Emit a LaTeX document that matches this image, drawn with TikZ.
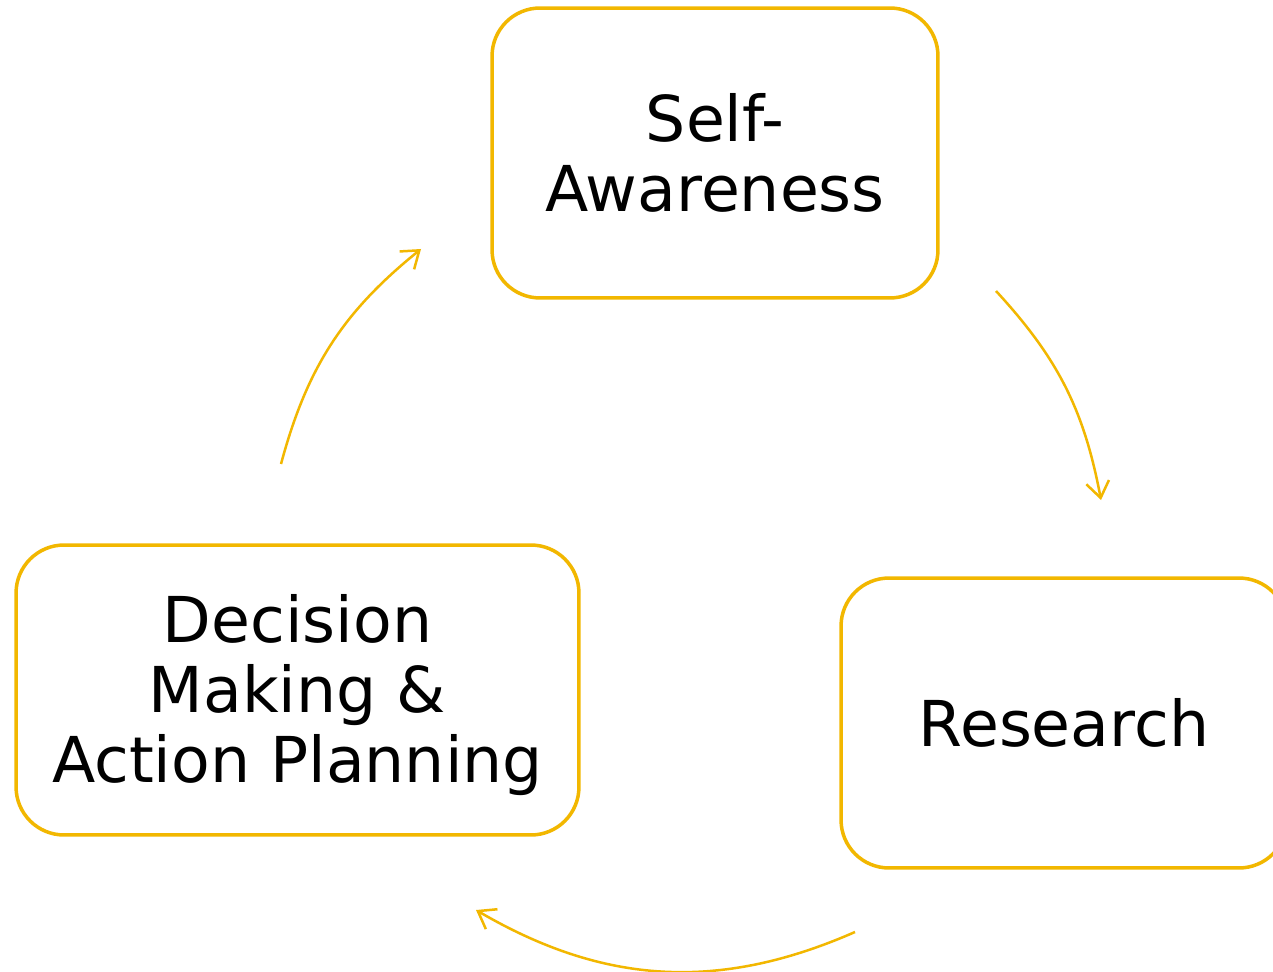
\documentclass[tikz,border=0pt]{standalone}
\usepackage{fontspec}
\setmainfont{DejaVu Sans}
\usetikzlibrary{arrows.meta}
\definecolor{gold}{RGB}{242,183,0}
\begin{document}
\begin{tikzpicture}[x=0.02cm,y=0.02cm,
  stagebox/.style={draw=gold,line width=0.07cm,rounded corners=0.96cm,
    minimum height=5.8cm,inner sep=2pt,align=center,
    font=\fontsize{36}{39.8}\selectfont,text=black},
  stagetext/.style={inner sep=0pt,align=center,
    font=\fontsize{36}{39.8}\selectfont,text=black},
  cyclearrow/.style={draw=gold,line width=0.05cm,
    -{Straight Barb[length=0.32cm,width=0.46cm,line width=0.05cm]}}]
\useasboundingbox[fill=white] (0,0) rectangle (1273,971);
\node[stagebox,minimum width=8.92cm] (sa) at (715,818) {Self-\\Awareness};
\node[stagebox,minimum width=8.92cm] (re) at (1064,248) {Research};
\node[stagebox,minimum width=11.26cm] (dm) at (297.5,281) {};
\node[stagetext] (dmt) at ([yshift=-0.1cm]dm.center) {Decision\\Making \&\\Action Planning};
\coordinate (a1s) at (996,680);
\coordinate (a1e) at (1101,471);
\coordinate (a2s) at (855,39);
\coordinate (a2e) at (476,61);
\coordinate (a3s) at (281,507);
\coordinate (a3e) at (421,722);
\draw[cyclearrow] (a1s) to[bend left=16] (a1e);
\draw[cyclearrow] (a2s) to[bend left=27] (a2e);
\draw[cyclearrow] (a3s) to[bend left=18] (a3e);
\end{tikzpicture}
\end{document}
